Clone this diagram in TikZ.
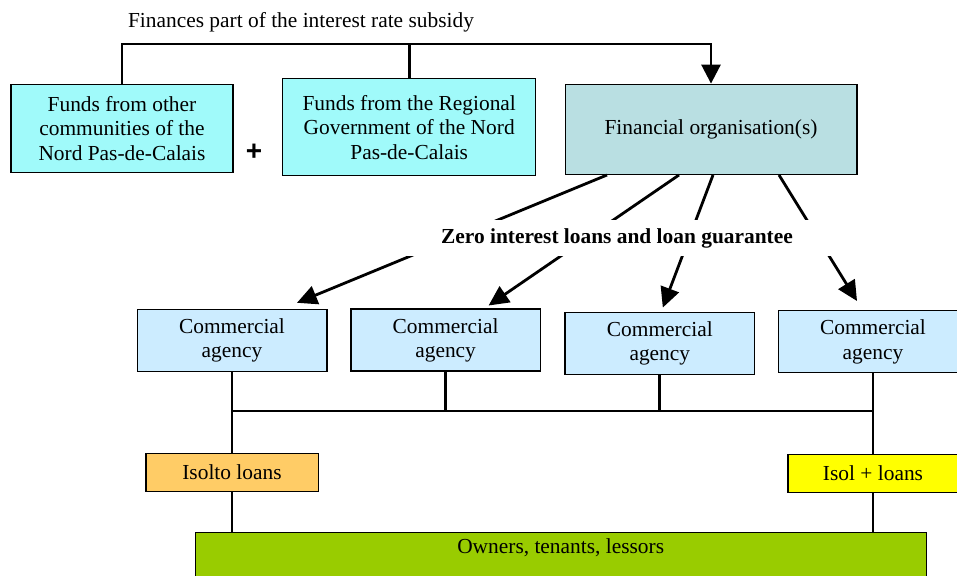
\documentclass[tikz,border=0pt]{standalone}
\usepackage{fontspec}
\setmainfont{Liberation Serif}
\newfontfamily\plusfont{Liberation Sans}
\usetikzlibrary{arrows.meta,calc}

\definecolor{fundcyan}{RGB}{160,250,250}
\definecolor{orgteal}{RGB}{185,223,226}
\definecolor{agencyblue}{RGB}{204,236,255}
\definecolor{isoltoorange}{RGB}{255,204,102}
\definecolor{isolyellow}{RGB}{255,255,0}
\definecolor{ownersgreen}{RGB}{153,204,0}

\begin{document}
\begin{tikzpicture}[
    x=0.5pt, y=-0.5pt,
    font=\fontsize{10.7}{12.3}\selectfont,
    box/.style={rectangle, draw=black, line width=0.7pt, align=center, inner sep=2pt},
    fund/.style={box, fill=fundcyan},
    org/.style={box, fill=orgteal, minimum width=145.8pt, minimum height=45pt},
    agency/.style={box, fill=agencyblue, minimum width=94.8pt, minimum height=31pt},
    loanbox/.style={box, minimum height=19pt},
    owners/.style={box, fill=ownersgreen, anchor=north, minimum width=365.5pt, text height=7.5pt, text depth=20pt, inner ysep=3pt},
    link/.style={line width=1.4pt},
    loan/.style={line width=1.4pt, -{Triangle[length=10pt, width=9.5pt]}},
    zerolabel/.style={fill=white, font=\fontsize{10.7}{12.3}\selectfont\bfseries, minimum width=220pt, minimum height=18pt}
]
\useasboundingbox (0,0) rectangle (957,576);

% Funding sources
\node (subsidy) at (301,22) {Finances part of the interest rate subsidy};
\node[fund, minimum width=111pt, minimum height=43.8pt] (fundsA) at (122,128.5) {Funds from other\\communities of the\\Nord Pas-de-Calais};
\node[font=\plusfont\fontsize{14}{14}\selectfont\bfseries] (plus) at (254,152) {+};
\node[fund, minimum width=126.5pt, minimum height=48.5pt] (fundsB) at (409.2,127.2) {Funds from the Regional\\Government of the Nord\\Pas-de-Calais};
\node[org] (finorg) at (711,129.3) {Financial organisation(s)};

% Commercial agencies
\node[agency] (agA) at (232,340.5) {Commercial\\agency};
\node[agency] (agB) at (445.6,340.2) {Commercial\\agency};
\node[agency] (agC) at (659.8,343.3) {Commercial\\agency};
\node[agency] (agD) at (873,341.7) {Commercial\\agency};

% Loans and beneficiaries
\node[loanbox, fill=isoltoorange, minimum width=86.2pt] (isolto) at (232,472.5) {Isolto loans};
\node[loanbox, fill=isolyellow, minimum width=85pt] (isolplus) at (873,473.3) {Isol + loans};
\node[owners] (owners) at (560.7,531.7) {Owners, tenants, lessors};

% Subsidy connections
\draw[link] (fundsA.north) -- ++(0,-40) coordinate (topbar)
    -| (finorg.north) [-{Triangle[length=9.5pt, width=9.5pt]}];
\draw[link] (fundsB.north) -- (fundsB.north |- topbar);

% Zero interest loans
\draw[loan] ($(finorg.south)+(-104,0)$) -- ($(agA.north)+(65,-6)$);
\draw[loan] ($(finorg.south)+(-32,0)$) -- ($(agB.north)+(43,-3)$);
\draw[loan] ($(finorg.south)+(2,0)$) -- ($(agC.north)+(3,-4)$);
\draw[loan] ($(finorg.south)+(68,0)$) -- ($(agD.north)+(-16,-9)$);
\node[zerolabel] (zero) at (617,238) {Zero interest loans and loan guarantee};

% Agency bus
\coordinate (bus) at (0,411);
\draw[link] (agA.south) -- (agA.south |- bus);
\draw[link] (agB.south) -- (agB.south |- bus);
\draw[link] (agC.south) -- (agC.south |- bus);
\draw[link] (agD.south) -- (agD.south |- bus);
\draw[link] (agA.south |- bus) -- (agD.south |- bus);
\draw[link] (agA.south |- bus) -- (isolto.north);
\draw[link] (agD.south |- bus) -- (isolplus.north);
\draw[link] (isolto.south) -- (isolto.south |- owners.north);
\draw[link] (isolplus.south) -- (isolplus.south |- owners.north);

\end{tikzpicture}
\end{document}
